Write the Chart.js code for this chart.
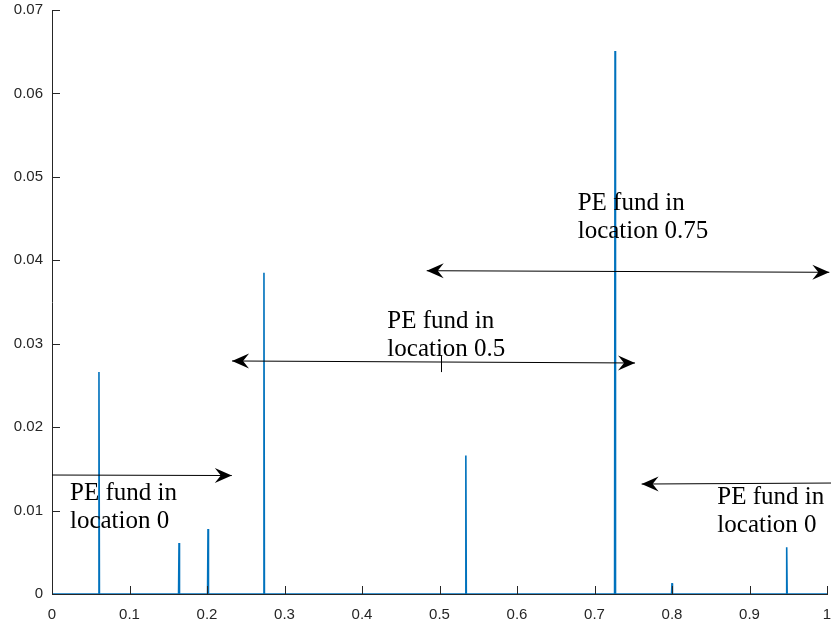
<!DOCTYPE html>
<html>
<head>
<meta charset="utf-8">
<script src="https://cdn.jsdelivr.net/npm/chart.js@4/dist/chart.umd.min.js"></script>
<style>
  html, body { margin: 0; padding: 0; background: #fff; }
  #wrap { width: 831px; height: 628px; }
</style>
</head>
<body>
<div id="wrap"><canvas id="densityChart" width="831" height="628"></canvas></div>
<script>
'use strict';

// spike locations and heights
var spikeX = [0.0606, 0.1639, 0.2013, 0.2735, 0.5340, 0.7265, 0.8000, 0.8200, 0.9480];
var spikeY = [0.0266, 0.0061, 0.0078, 0.0385, 0.0166, 0.0651, 0.0013, 0.0001, 0.0056];

var xTicks = [0, 0.1, 0.2, 0.3, 0.4, 0.5, 0.6, 0.7, 0.8, 0.9, 1];
var yTicks = [0, 0.01, 0.02, 0.03, 0.04, 0.05, 0.06, 0.07];

// arrows: [x1, y1, x2, y2, head at start, head at end]
var arrows = [
  [0.000, 0.01426, 0.232, 0.01420, false, true],
  [0.2323, 0.02793, 0.7523, 0.02769, true, true],
  [0.4835, 0.03875, 1.003, 0.03856, true, true],
  [1.0052, 0.01330, 0.7608, 0.01318, false, true]
];
// labels: [x, y of first baseline, line1, line2]
var labels = [
  [0.0232, 0.01127, 'PE fund in', 'location 0'],
  [0.4327, 0.03185, 'PE fund in', 'location 0.5'],
  [0.6783, 0.04603, 'PE fund in', 'location 0.75'],
  [0.8585, 0.01079, 'PE fund in', 'location 0']
];

var points = [{x: 0, y: 0}];
spikeX.forEach(function(x, i) {
  points.push({x: x - 0.0006, y: 0});
  points.push({x: x, y: spikeY[i]});
  points.push({x: x + 0.0006, y: 0});
});
points.push({x: 1, y: 0});

function arrowHead(ctx, x, y, ang) {
  ctx.save();
  ctx.translate(x, y);
  ctx.rotate(ang);
  ctx.beginPath();
  ctx.moveTo(0, 0);
  ctx.lineTo(-17, -7.5);
  ctx.lineTo(-11, 0);
  ctx.lineTo(-17, 7.5);
  ctx.closePath();
  ctx.fillStyle = '#000';
  ctx.fill();
  ctx.restore();
}

var extras = {
  id: 'extras',
  afterDraw: function(chart) {
    var ctx = chart.ctx;
    var xs = chart.scales.x, ys = chart.scales.y;
    var a = chart.chartArea;

    // inward tick marks (matlab style)
    ctx.save();
    ctx.strokeStyle = '#262626';
    ctx.lineWidth = 1;
    ctx.beginPath();
    xTicks.forEach(function(t) {
      var px = Math.round(xs.getPixelForValue(t)) + 0.5;
      ctx.moveTo(px, a.bottom);
      ctx.lineTo(px, a.bottom - 8);
    });
    yTicks.forEach(function(t) {
      var py = Math.round(ys.getPixelForValue(t)) + 0.5;
      ctx.moveTo(a.left, py);
      ctx.lineTo(a.left + 8, py);
    });
    ctx.stroke();

    // arrows
    ctx.strokeStyle = '#000';
    arrows.forEach(function(ar) {
      var x1 = xs.getPixelForValue(ar[0]), y1 = ys.getPixelForValue(ar[1]);
      var x2 = xs.getPixelForValue(ar[2]), y2 = ys.getPixelForValue(ar[3]);
      var ang = Math.atan2(y2 - y1, x2 - x1);
      ctx.beginPath();
      ctx.moveTo(x1, y1);
      ctx.lineTo(x2, y2);
      ctx.stroke();
      if (ar[4]) arrowHead(ctx, x1, y1, ang + Math.PI);
      if (ar[5]) arrowHead(ctx, x2, y2, ang);
    });

    // small stray mark under the middle label
    var mx = Math.round(xs.getPixelForValue(0.502)) + 0.5;
    ctx.beginPath();
    ctx.moveTo(mx, ys.getPixelForValue(0.0286));
    ctx.lineTo(mx, ys.getPixelForValue(0.0266));
    ctx.stroke();

    // text labels
    ctx.fillStyle = '#000';
    ctx.font = '25px "Liberation Serif"';
    ctx.textAlign = 'left';
    ctx.textBaseline = 'alphabetic';
    labels.forEach(function(l) {
      var px = xs.getPixelForValue(l[0]);
      var py = ys.getPixelForValue(l[1]);
      ctx.fillText(l[2], px, py);
      ctx.fillText(l[3], px, py + 28);
    });
    ctx.restore();
  }
};

Chart.defaults.font.family = '"Liberation Sans", Arial, sans-serif';
Chart.defaults.font.size = 15;

new Chart(document.getElementById('densityChart').getContext('2d'), {
  type: 'line',
  data: {
    datasets: [{
      data: points,
      borderColor: '#0072BD',
      borderWidth: 1.6,
      pointRadius: 0,
      tension: 0,
      fill: false
    }]
  },
  options: {
    responsive: false,
    animation: false,
    events: [],
    layout: { padding: { top: 10, right: 4, left: 0, bottom: 0 } },
    plugins: { legend: { display: false }, tooltip: { enabled: false } },
    scales: {
      x: {
        type: 'linear',
        min: 0, max: 1,
        afterFit: function(s) { s.height = 34; s.paddingLeft = 0; s.paddingRight = 0; },
        afterBuildTicks: function(s) { s.ticks = xTicks.map(function(v) { return {value: v}; }); },
        grid: { display: false, drawTicks: false },
        border: { display: true, color: '#262626', width: 1 },
        ticks: {
          color: '#262626',
          font: { size: 15 },
          padding: 12,
          maxRotation: 0,
          callback: function(v) { return String(Math.round(v * 10) / 10); }
        }
      },
      y: {
        type: 'linear',
        min: 0, max: 0.07,
        afterFit: function(s) { s.width = 52; s.paddingTop = 0; s.paddingBottom = 0; },
        afterBuildTicks: function(s) { s.ticks = yTicks.map(function(v) { return {value: v}; }); },
        grid: { display: false, drawTicks: false },
        border: { display: true, color: '#262626', width: 1 },
        ticks: {
          color: '#262626',
          font: { size: 15 },
          padding: 9,
          callback: function(v) { return String(Math.round(v * 100) / 100); }
        }
      }
    }
  },
  plugins: [extras]
});
</script>
</body>
</html>
